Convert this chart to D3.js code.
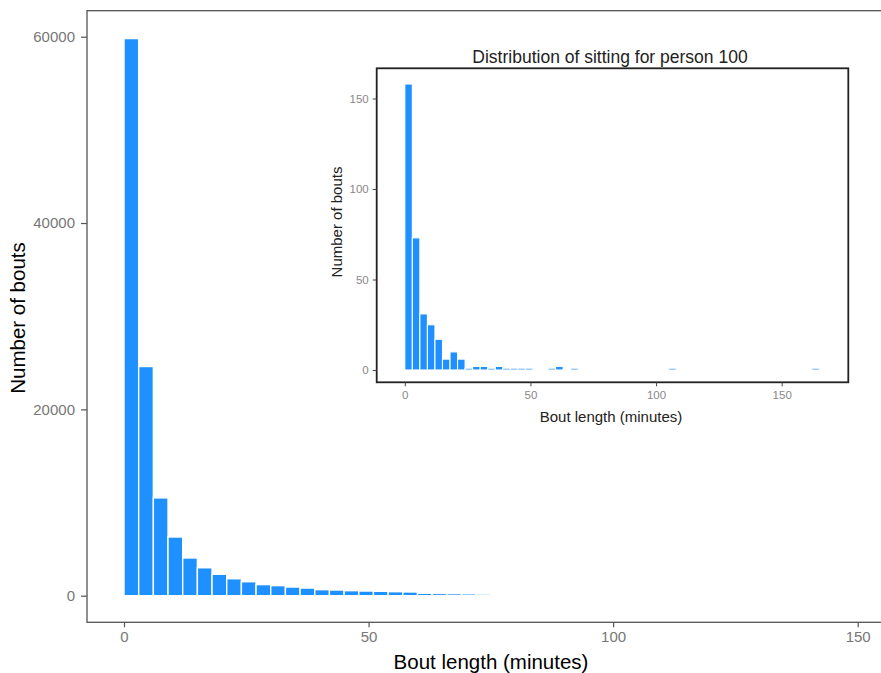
<!DOCTYPE html>
<html>
<head>
<meta charset="utf-8">
<script src="https://cdn.jsdelivr.net/npm/d3@7"></script>
<style>
  body { margin: 0; background: #fff; }
  svg { display: block; font-family: 'Liberation Sans', Arial, sans-serif; }
</style>
</head>
<body>
<svg></svg>
<script>
// all sitting bouts, binwidth 3 minutes
var binWidth = 3;
var mainBinStart = [0, 3, 6, 9, 12, 15, 18, 21, 24, 27, 30, 33, 36, 39, 42, 45, 48, 51, 54, 57, 60, 63, 66, 69, 72];
var mainCounts = [59800, 24600, 10500, 6300, 4050, 3000, 2300, 1820, 1500, 1190, 1080, 930, 820, 650, 610, 540, 500, 470, 430, 400, 260, 240, 220, 200, 170];

// person 100 only (empty bins left out)
var personBinStart = [0, 3, 6, 9, 12, 15, 18, 21, 24, 27, 30, 33, 36, 39, 42, 45, 48, 57, 60, 66, 105, 162];
var personCounts = [158, 73, 31, 25, 17, 6, 10, 6, 1, 2, 2, 1, 2, 1, 1, 1, 1, 1, 2, 1, 1, 1];

var mainXTicks = [0, 50, 100, 150];
var mainYTicks = [0, 20000, 40000, 60000];
var insetXTicks = [0, 50, 100, 150];
var insetYTicks = [0, 50, 100, 150];

var barColor = '#1E90FF';

var svg = d3.select('svg')
    .attr('width', 881)
    .attr('height', 673);

svg.append('rect')
    .attr('width', 881)
    .attr('height', 673)
    .attr('fill', '#fff');

// ---- main panel ----
var main = { left: 87, top: 10.7, right: 900, bottom: 622.3 };

var x = d3.scaleLinear().domain([0, 150]).range([124, 857.7]);
var y = d3.scaleLinear().domain([0, 60000]).range([595.7, 36.7]);

var mainData = mainBinStart.map(function(s, i) { return { start: s, count: mainCounts[i] }; });

svg.append('g')
    .attr('class', 'bars main')
  .selectAll('rect')
    .data(mainData)
    .enter()
    .append('rect')
    .attr('x', function(d) { return x(d.start); })
    .attr('y', function(d) { return y(d.count); })
    .attr('width', function(d) { return x(d.start + binWidth) - x(d.start); })
    .attr('height', function(d) { return y(0) - y(d.count); })
    .attr('fill', barColor)
    .attr('stroke', '#fff')
    .attr('stroke-width', 1.4);

svg.append('rect')
    .attr('x', main.left)
    .attr('y', main.top)
    .attr('width', main.right - main.left)
    .attr('height', main.bottom - main.top)
    .attr('fill', 'none')
    .attr('stroke', '#555')
    .attr('stroke-width', 1.3);

var mainYAxis = svg.append('g')
    .attr('transform', 'translate(' + main.left + ',0)')
    .call(d3.axisLeft(y).tickValues(mainYTicks).tickFormat(d3.format('d')).tickSize(6).tickPadding(6));

var mainXAxis = svg.append('g')
    .attr('transform', 'translate(0,' + main.bottom + ')')
    .call(d3.axisBottom(x).tickValues(mainXTicks).tickSize(5).tickPadding(4));

[mainYAxis, mainXAxis].forEach(function(g) {
  g.select('.domain').remove();
  g.selectAll('line').attr('stroke', '#555').attr('stroke-width', 1.2);
  g.selectAll('text')
    .attr('fill', '#777')
    .style('font-family', "'Liberation Sans', Arial, sans-serif")
    .style('font-size', '15px');
});

svg.append('text')
    .attr('x', 491)
    .attr('y', 669)
    .attr('text-anchor', 'middle')
    .style('font-size', '20.5px')
    .attr('fill', '#000')
    .text('Bout length (minutes)');

svg.append('text')
    .attr('transform', 'translate(25,318) rotate(-90)')
    .attr('text-anchor', 'middle')
    .style('font-size', '20.5px')
    .attr('fill', '#000')
    .text('Number of bouts');

// ---- inset panel ----
var inset = { left: 376.7, top: 68.3, right: 848.3, bottom: 382.3 };

var x1 = d3.scaleLinear().domain([0, 150]).range([404.8, 781.7]);
var y1 = d3.scaleLinear().domain([0, 150]).range([370, 98.5]);

svg.append('rect')
    .attr('x', inset.left)
    .attr('y', inset.top)
    .attr('width', inset.right - inset.left)
    .attr('height', inset.bottom - inset.top)
    .attr('fill', '#fff');

var personData = personBinStart.map(function(s, i) { return { start: s, count: personCounts[i] }; });

svg.append('g')
    .attr('class', 'bars inset')
  .selectAll('rect')
    .data(personData)
    .enter()
    .append('rect')
    .attr('x', function(d) { return x1(d.start); })
    .attr('y', function(d) { return y1(d.count); })
    .attr('width', function(d) { return x1(d.start + binWidth) - x1(d.start); })
    .attr('height', function(d) { return y1(0) - y1(d.count); })
    .attr('fill', barColor)
    .attr('stroke', '#fff')
    .attr('stroke-width', 1.1);

svg.append('rect')
    .attr('x', inset.left)
    .attr('y', inset.top)
    .attr('width', inset.right - inset.left)
    .attr('height', inset.bottom - inset.top)
    .attr('fill', 'none')
    .attr('stroke', '#222')
    .attr('stroke-width', 1.8);

var insetYAxis = svg.append('g')
    .attr('transform', 'translate(' + inset.left + ',0)')
    .call(d3.axisLeft(y1).tickValues(insetYTicks).tickSize(4).tickPadding(4));

var insetXAxis = svg.append('g')
    .attr('transform', 'translate(0,' + inset.bottom + ')')
    .call(d3.axisBottom(x1).tickValues(insetXTicks).tickSize(4).tickPadding(5));

[insetYAxis, insetXAxis].forEach(function(g) {
  g.select('.domain').remove();
  g.selectAll('line').attr('stroke', '#444').attr('stroke-width', 1);
  g.selectAll('text')
    .attr('fill', '#888')
    .style('font-family', "'Liberation Sans', Arial, sans-serif")
    .style('font-size', '11.5px');
});

svg.append('text')
    .attr('x', 610)
    .attr('y', 63)
    .attr('text-anchor', 'middle')
    .style('font-size', '17.5px')
    .attr('fill', '#222')
    .text('Distribution of sitting for person 100');

svg.append('text')
    .attr('x', 611)
    .attr('y', 422)
    .attr('text-anchor', 'middle')
    .style('font-size', '15px')
    .attr('fill', '#222')
    .text('Bout length (minutes)');

svg.append('text')
    .attr('transform', 'translate(342,222) rotate(-90)')
    .attr('text-anchor', 'middle')
    .style('font-size', '15px')
    .attr('fill', '#222')
    .text('Number of bouts');
</script>
</body>
</html>
